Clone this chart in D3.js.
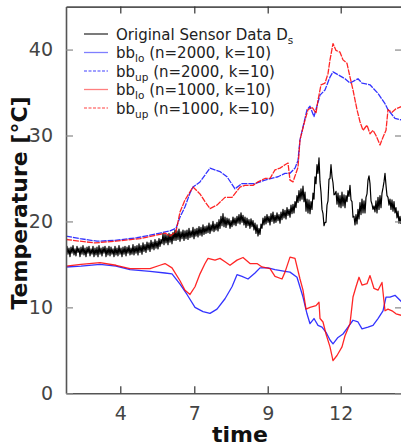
<html>
<head>
<meta charset="utf-8">
<script src="https://d3js.org/d3.v7.min.js"></script>
<style>
  body { margin: 0; background: white; }
  svg { font-family: "DejaVu Sans", sans-serif; display: block; }
</style>
</head>
<body>
<div id="graph"></div>
<script>
  // tick positions on the time axis and their labels
  const xTickPos = [5.43, 12.83, 20.17, 27.47];
  const xTickLabels = ['4', '7', '9', '12'];
  const yTicks = [0, 10, 20, 30, 40];

  // original sensor data, one value every 0.1 time units starting at 0
  const sensorStep = 0.1;
  const sensorVals = [
    16.0,17.1,16.2,16.9,15.9,17.0,16.3,17.2,16.1,16.8,
    16.0,17.1,16.4,16.9,15.9,17.0,16.2,17.2,16.1,16.9,
    15.9,17.0,16.3,17.1,16.0,16.8,16.2,17.1,15.9,16.9,
    16.1,17.0,15.9,17.2,16.2,16.9,16.0,17.0,16.3,17.1,
    15.9,16.9,16.1,17.1,16.0,17.0,16.2,16.8,15.9,17.1,
    16.1,16.9,16.0,17.2,16.2,16.9,15.9,17.0,16.2,17.1,
    16.0,17.0,16.3,17.2,16.1,16.9,16.2,17.3,16.1,17.1,
    16.3,17.2,16.1,17.4,16.4,17.2,16.2,17.5,16.5,17.3,
    16.4,17.6,16.7,17.5,16.5,17.8,16.8,17.6,16.7,17.9,
    16.9,17.7,16.8,18.0,17.1,17.9,17.4,18.6,17.3,18.5,
    17.5,18.4,17.3,18.6,17.6,18.5,17.4,18.7,17.8,19.0,
    17.8,18.9,17.9,19.1,17.7,18.8,18.0,19.0,17.8,18.9,
    18.0,19.0,17.9,19.2,18.1,18.9,18.2,19.3,18.0,19.1,
    18.3,19.2,18.2,19.4,18.4,19.3,18.3,19.6,18.5,19.4,
    18.6,19.5,18.7,19.8,18.6,19.6,18.9,20.0,18.8,19.7,
    19.0,19.9,18.9,20.2,19.2,20.6,19.5,20.9,19.4,20.5,
    19.3,20.4,19.6,20.3,19.2,20.1,19.4,20.5,19.6,20.4,
    19.5,20.6,19.8,20.8,19.7,21.0,19.9,20.7,19.6,20.5,
    19.3,20.4,19.5,20.2,19.2,20.3,19.4,20.1,19.0,19.8,
    18.6,19.6,18.3,19.2,18.5,19.7,19.2,20.4,19.6,20.6,
    19.7,20.8,19.9,20.6,19.6,20.9,20.0,21.1,19.8,20.7,
    19.9,21.0,20.1,20.8,19.8,21.1,20.2,21.4,20.4,21.3,
    20.3,21.6,20.7,21.4,20.5,21.9,20.9,22.0,21.0,22.3,
    21.6,23.0,22.2,23.6,22.4,23.8,22.6,24.1,22.3,23.4,
    21.2,22.6,21.0,22.5,20.9,22.3,21.4,23.3,22.6,25.2,
    24.4,26.6,25.6,27.4,24.6,23.4,21.4,20.9,19.5,19.9,
    19.9,21.9,22.4,24.9,25.0,26.6,25.2,24.5,23.1,23.2,
    23.5,22.0,23.3,21.7,23.0,21.6,23.4,21.8,23.1,21.6,
    23.0,22.3,23.6,22.9,24.2,22.5,22.3,20.5,20.6,19.6,
    20.8,19.7,21.4,20.3,22.2,20.8,22.6,21.0,22.4,21.0,
    22.8,23.2,24.8,25.3,24.4,22.4,22.0,21.4,21.8,21.1,
    22.4,21.0,22.8,21.4,23.0,21.6,23.3,23.9,24.6,25.6,
    24.2,23.0,22.8,21.9,22.6,21.4,22.5,21.2,22.3,21.0,
    21.6,20.4,21.2,19.8,20.6,19.7
  ];

  // Bollinger band limits, [time, temperature]
  const bbLo2000 = [
    [0,14.7],[1.5,14.8],[3.4,15.0],[5.0,14.8],[6.4,14.4],[8.4,14.2],[9.9,14.0],[10.6,13.9],
    [11.4,12.7],[12.1,11.5],[12.9,10.0],[13.7,9.5],[14.4,9.3],[15.1,9.8],[15.9,11.0],[16.6,12.4],
    [17.1,13.8],[17.6,13.6],[18.2,13.3],[18.9,14.0],[19.4,14.6],[20.2,14.6],[20.9,14.4],[21.9,14.2],
    [22.4,14.1],[23.1,13.5],[23.7,11.2],[24.1,9.25],[24.4,8.1],[24.8,8.7],[25.2,7.9],[25.6,7.7],
    [26.0,7.1],[26.4,6.2],[26.7,5.75],[27.2,6.5],[27.7,6.9],[28.2,7.7],[28.7,8.5],[29.2,8.3],
    [29.6,7.5],[30.2,7.7],[30.7,7.9],[31.2,8.7],[31.7,9.6],[32.0,11.2],[32.4,11.2],[32.9,11.4],[33.6,10.6]
  ];
  const bbUp2000 = [
    [0,18.3],[1.4,18.0],[3.1,17.7],[4.9,17.8],[7.1,18.1],[8.4,18.4],[9.4,18.65],[10.4,18.9],
    [11.0,19.2],[11.4,20.5],[11.9,21.7],[12.4,23.3],[12.7,24.0],[13.4,24.6],[14.4,26.2],[15.4,25.8],
    [16.1,25.2],[16.9,23.8],[17.6,24.4],[18.9,24.4],[19.9,24.8],[21.2,25.2],[21.9,25.6],[22.4,25.6],
    [22.9,26.2],[23.2,27.1],[23.4,29.5],[24.1,33.0],[24.4,33.4],[24.8,32.2],[25.4,34.7],[25.9,35.3],
    [26.4,36.8],[26.7,37.4],[27.9,36.6],[28.4,36.1],[29.2,36.6],[29.6,36.1],[30.4,35.9],[31.2,34.9],
    [31.9,33.7],[32.2,33.0],[32.9,32.0],[33.6,31.8]
  ];
  const bbLo1000 = [
    [0,14.8],[1.5,15.0],[3.4,15.2],[5.0,14.9],[6.4,14.5],[8.4,14.5],[9.4,14.9],[9.9,15.1],
    [10.6,14.6],[11.4,13.1],[11.9,12.0],[12.4,11.5],[12.9,12.4],[13.4,13.9],[13.9,15.1],[14.2,15.7],
    [14.9,15.5],[15.4,15.7],[15.9,15.3],[16.4,14.9],[17.1,15.5],[17.7,15.8],[18.4,15.1],[19.1,15.1],
    [19.6,14.7],[20.4,14.5],[20.9,13.6],[21.6,13.3],[21.9,14.1],[22.4,15.85],[22.9,15.7],[23.4,13.3],
    [23.7,12.0],[24.0,9.8],[24.4,10.0],[25.0,10.2],[25.3,10.6],[25.4,8.7],[25.7,8.3],[26.0,6.9],
    [26.4,5.4],[26.7,3.8],[27.1,4.4],[27.6,5.4],[27.9,6.7],[28.4,8.1],[28.7,11.2],[29.0,12.4],
    [29.3,13.5],[29.6,12.6],[30.1,12.75],[30.4,13.7],[30.8,12.2],[31.2,12.0],[31.6,12.9],[31.9,9.6],
    [32.2,9.8],[32.6,9.6],[33.0,9.25],[33.6,9.05]
  ];
  const bbUp1000 = [
    [0,17.9],[1.4,17.7],[2.9,17.5],[5.0,17.7],[7.4,18.0],[9.4,18.5],[9.9,18.65],[10.4,18.3],
    [11.0,18.8],[11.4,21.1],[11.9,22.5],[12.7,24.0],[13.4,23.2],[13.9,22.3],[14.4,21.5],[15.1,21.9],
    [15.9,22.8],[16.6,22.8],[17.4,24.0],[17.9,24.2],[18.7,24.2],[19.2,24.6],[19.9,25.0],[20.4,25.0],
    [20.9,26.0],[21.4,26.2],[21.9,26.6],[22.2,26.8],[22.4,24.8],[22.7,24.6],[23.2,26.3],[23.4,29.5],
    [23.9,31.8],[24.2,33.0],[24.6,33.3],[25.0,32.6],[25.2,34.1],[25.5,35.9],[25.9,36.1],[26.2,37.2],
    [26.4,38.8],[26.7,40.7],[27.0,39.9],[27.4,39.7],[27.7,38.8],[28.1,38.4],[28.4,36.8],[28.7,35.3],
    [29.1,33.0],[29.4,31.6],[29.7,30.6],[30.1,31.2],[30.4,30.2],[30.7,30.6],[31.0,30.0],[31.4,28.9],
    [31.7,29.8],[32.0,30.6],[32.2,33.0],[32.6,32.7],[33.0,33.1],[33.6,33.4]
  ];

  const legendNames = [
    ['Original Sensor Data D', 's', ''],
    ['bb', 'lo', ' (n=2000, k=10)'],
    ['bb', 'up', ' (n=2000, k=10)'],
    ['bb', 'lo', ' (n=1000, k=10)'],
    ['bb', 'up', ' (n=1000, k=10)']
  ];

  const W = 401, H = 446;
  const margin = {top: 7, right: 0, bottom: 53, left: 66};

  const svg = d3.select('#graph').append('svg')
    .attr('width', W).attr('height', H);
  svg.append('rect').attr('width', W).attr('height', H).attr('fill', 'white');

  const x = d3.scaleLinear().domain([0, 33.6]).range([margin.left, 402]);
  const y = d3.scaleLinear().domain([0, 45]).range([H - margin.bottom + 0.3, margin.top - 0.4]);

  svg.append('clipPath').attr('id', 'plotclip').append('rect')
    .attr('x', x(0)).attr('y', y(45))
    .attr('width', x(33.6) - x(0)).attr('height', y(0) - y(45));

  const line = d3.line().x(d => x(d[0])).y(d => y(d[1]));
  const plot = svg.append('g').attr('clip-path', 'url(#plotclip)');

  const sensor = sensorVals.map((v, i) => [i * sensorStep, v]);

  const series = [
    {data: sensor, color: '#000', dash: null, width: 1.2, op: 1},
    {data: bbLo2000, color: '#0000ff', dash: null, width: 1.3, op: 0.8},
    {data: bbUp2000, color: '#0000ff', dash: '6,1', width: 1.3, op: 0.8},
    {data: bbLo1000, color: '#ff0000', dash: null, width: 1.3, op: 0.85},
    {data: bbUp1000, color: '#ff0000', dash: '6,1', width: 1.3, op: 0.85}
  ];

  series.forEach(s => {
    plot.append('path')
      .attr('d', line(s.data))
      .attr('fill', 'none')
      .attr('stroke', s.color)
      .attr('stroke-opacity', s.op)
      .attr('stroke-width', s.width)
      .attr('stroke-linejoin', 'round')
      .attr('stroke-dasharray', s.dash);
  });

  // axes, ticks pointing inward on all four sides
  const tickCol = '#444';
  const fmtX = (d, i) => xTickLabels[i];
  const gB = svg.append('g').attr('transform', 'translate(0,' + y(0) + ')')
    .call(d3.axisBottom(x).tickValues(xTickPos).tickFormat(fmtX).tickSizeInner(-7).tickSizeOuter(0).tickPadding(13));
  const gT = svg.append('g').attr('transform', 'translate(0,' + y(45) + ')')
    .call(d3.axisTop(x).tickValues(xTickPos).tickFormat('').tickSizeInner(-7).tickSizeOuter(0));
  const gL = svg.append('g').attr('transform', 'translate(' + x(0) + ',0)')
    .call(d3.axisLeft(y).tickValues(yTicks).tickSizeInner(-7).tickSizeOuter(0).tickPadding(13));
  const gR = svg.append('g').attr('transform', 'translate(' + x(33.6) + ',0)')
    .call(d3.axisRight(y).tickValues(yTicks).tickFormat('').tickSizeInner(-7).tickSizeOuter(0));

  [gB, gT, gL, gR].forEach(g => {
    g.select('.domain').attr('stroke', '#555').attr('stroke-width', 1.6);
    g.selectAll('.tick line').attr('stroke', '#333').attr('stroke-width', 1.2);
    g.selectAll('.tick text').attr('fill', tickCol)
      .style('font-family', '"DejaVu Sans", sans-serif').style('font-size', '19px');
  });
  gL.selectAll('.tick line').attr('stroke', '#888');
  gR.selectAll('.tick line').attr('stroke', '#888');

  svg.append('text')
    .attr('transform', 'translate(27,' + ((y(0) + y(45)) / 2 + 3) + ') rotate(-90)')
    .attr('text-anchor', 'middle')
    .style('font-size', '22px').style('font-weight', 'bold')
    .attr('fill', '#111')
    .text('Temperature [°C]');

  svg.append('text')
    .attr('x', 240).attr('y', 442)
    .attr('text-anchor', 'middle')
    .style('font-size', '22px').style('font-weight', 'bold')
    .attr('fill', '#111')
    .text('time');

  // legend
  const leg = svg.append('g');
  legendNames.forEach((n, i) => {
    const ly = 34 + i * 18.5;
    const s = series[i];
    leg.append('line')
      .attr('x1', 84).attr('x2', 108).attr('y1', ly).attr('y2', ly)
      .attr('stroke', s.color)
      .attr('stroke-opacity', i === 0 ? 0.8 : 0.5)
      .attr('stroke-width', 1.3)
      .attr('stroke-dasharray', i === 0 ? null : (s.dash ? '3,1.5' : null));
    const t = leg.append('text')
      .attr('x', 116).attr('y', ly + 5.5)
      .attr('fill', '#222')
      .style('font-size', '15px');
    t.append('tspan').text(n[0]);
    t.append('tspan').attr('dy', 4).style('font-size', '10.5px').text(n[1]);
    if (n[2]) t.append('tspan').attr('dy', -4).text(n[2]);
  });
</script>
</body>
</html>
